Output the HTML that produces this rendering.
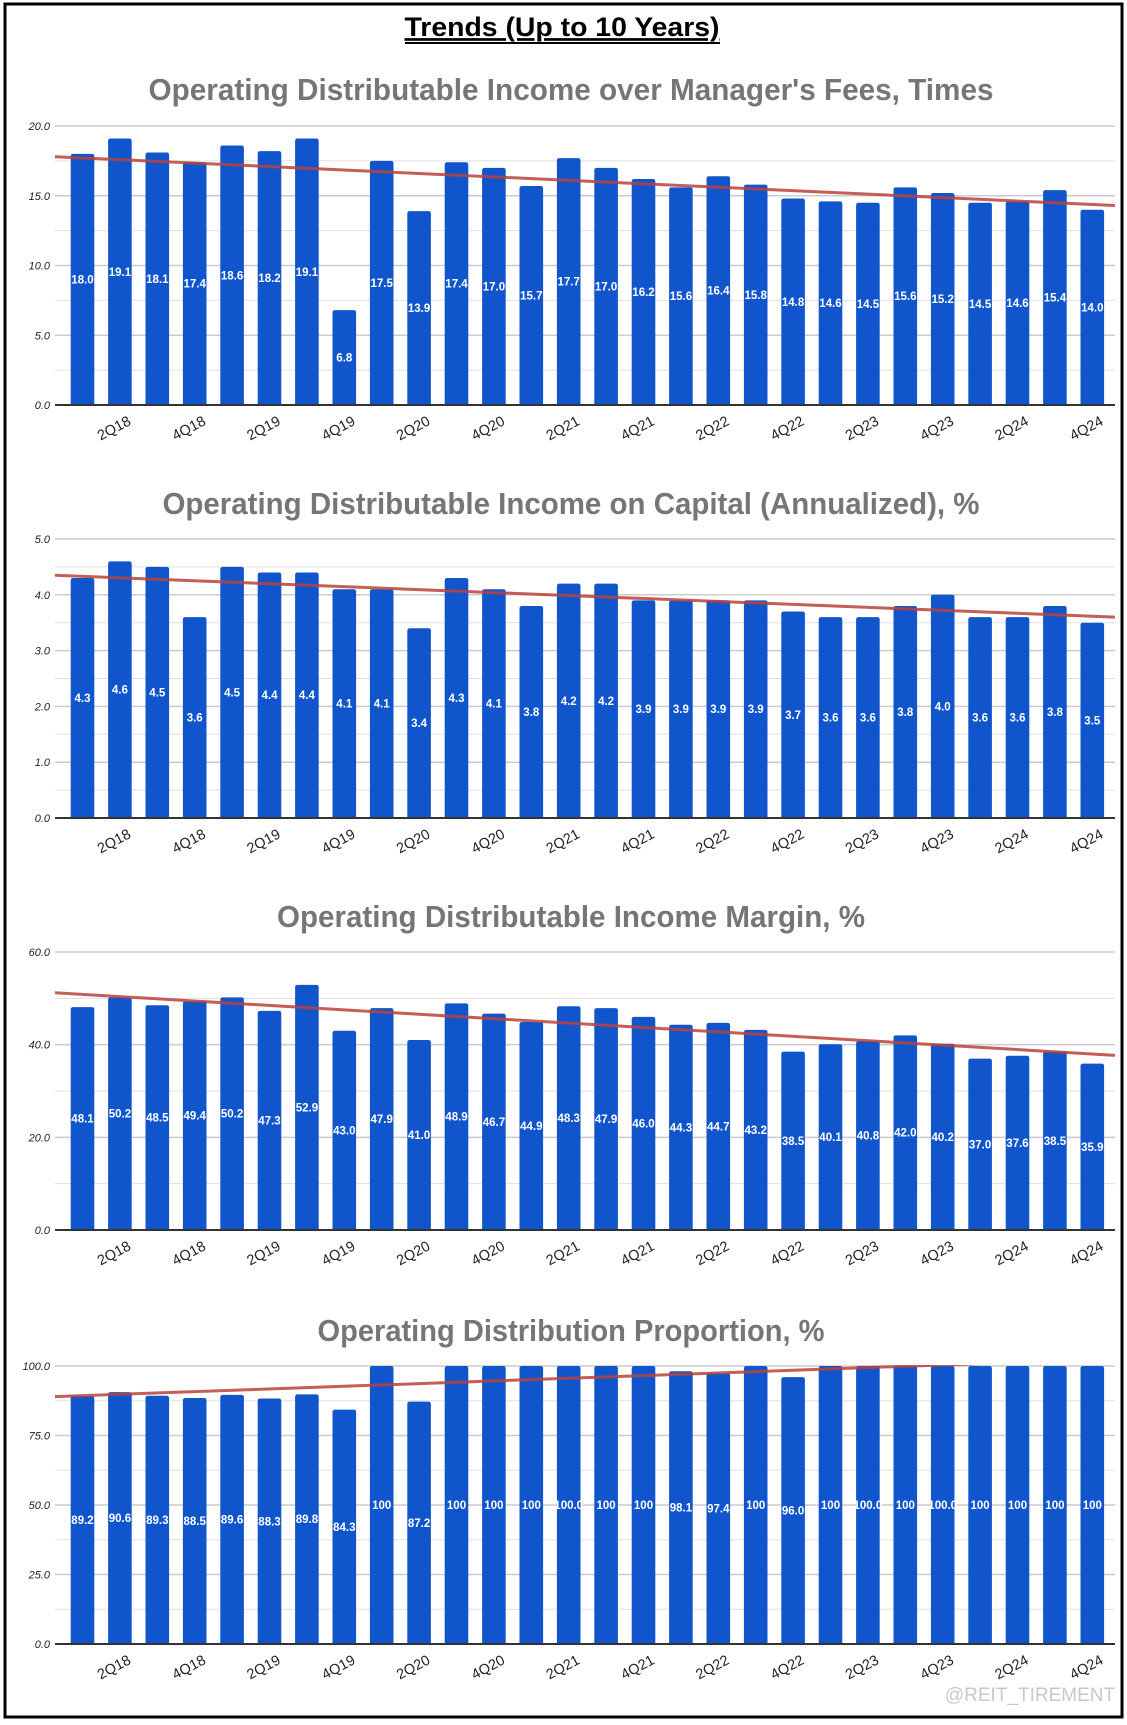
<!DOCTYPE html>
<html><head><meta charset="utf-8"><style>
html,body{margin:0;padding:0;background:#fff;}
svg{display:block;}
</style></head><body>
<svg id="root" width="1127" height="1725" xmlns="http://www.w3.org/2000/svg">
<rect x="5" y="4" width="1117" height="1713" fill="#fff" stroke="#000" stroke-width="3"/>
<text x="562" y="29" text-anchor="middle" dominant-baseline="middle" font-family="Liberation Sans, sans-serif" font-weight="bold" font-size="27" textLength="315" lengthAdjust="spacingAndGlyphs" text-decoration="underline" fill="#000">Trends (Up to 10 Years)</text>
<line x1="405" y1="43" x2="720" y2="43" stroke="#000" stroke-width="2"/>
<text x="1030" y="1701" text-anchor="middle" font-family="Liberation Sans, sans-serif" font-size="19" fill="#c8c8c8">@REIT_TIREMENT</text>
</svg>
<script>
const quarters = ["1Q18","2Q18","3Q18","4Q18","1Q19","2Q19","3Q19","4Q19","1Q20","2Q20","3Q20","4Q20","1Q21","2Q21","3Q21","4Q21","1Q22","2Q22","3Q22","4Q22","1Q23","2Q23","3Q23","4Q23","1Q24","2Q24","3Q24","4Q24"];
const feesValues = [18.0,19.1,18.1,17.4,18.6,18.2,19.1,6.8,17.5,13.9,17.4,17.0,15.7,17.7,17.0,16.2,15.6,16.4,15.8,14.8,14.6,14.5,15.6,15.2,14.5,14.6,15.4,14.0];
const capitalValues = [4.3,4.6,4.5,3.6,4.5,4.4,4.4,4.1,4.1,3.4,4.3,4.1,3.8,4.2,4.2,3.9,3.9,3.9,3.9,3.7,3.6,3.6,3.8,4.0,3.6,3.6,3.8,3.5];
const marginValues = [48.1,50.2,48.5,49.4,50.2,47.3,52.9,43.0,47.9,41.0,48.9,46.7,44.9,48.3,47.9,46.0,44.3,44.7,43.2,38.5,40.1,40.8,42.0,40.2,37.0,37.6,38.5,35.9];
const proportionValues = [89.2,90.6,89.3,88.5,89.6,88.3,89.8,84.3,100,87.2,100,100,100,100.0,100,100,98.1,97.4,100,96.0,100,100.0,100,100.0,100,100,100,100];
const proportionLabels = ["89.2","90.6","89.3","88.5","89.6","88.3","89.8","84.3","100","87.2","100","100","100","100.0","100","100","98.1","97.4","100","96.0","100","100.0","100","100.0","100","100","100","100"];
const feesTicks = [0,5,10,15,20];
const capitalTicks = [0,1,2,3,4,5];
const marginTicks = [0,20,40,60];
const proportionTicks = [0,25,50,75,100];
const feesTrend = [17.8,14.3];
const capitalTrend = [4.35,3.6];
const marginTrend = [51.2,37.7];
const proportionTrend = [89.0,102.6];

const NS="http://www.w3.org/2000/svg";
const root=document.getElementById('root');
function mk(tag,attrs,parent){const e=document.createElementNS(NS,tag);for(const k in attrs)e.setAttribute(k,attrs[k]);(parent||root).appendChild(e);return e;}

const PL=55, PR=1115;
const charts=[
 {name:'fees',title:"Operating Distributable Income over Manager's Fees, Times",tY:92,tW:845,top:126,bot:405,max:20,ticks:feesTicks,vals:feesValues,labels:null,trend:feesTrend},
 {name:'capital',title:"Operating Distributable Income on Capital (Annualized), %",tY:506,tW:817,top:539,bot:818,max:5,ticks:capitalTicks,vals:capitalValues,labels:null,trend:capitalTrend},
 {name:'margin',title:"Operating Distributable Income Margin, %",tY:919,tW:588,top:952,bot:1230,max:60,ticks:marginTicks,vals:marginValues,labels:null,trend:marginTrend},
 {name:'proportion',title:"Operating Distribution Proportion, %",tY:1333,tW:507,top:1366,bot:1644,max:100,ticks:proportionTicks,vals:proportionValues,labels:proportionLabels,trend:proportionTrend}
];
function xC(i){return 82.5+i*37.4;}
charts.forEach(c=>{
  const g=mk('g',{});
  
  
  const y=v=>c.bot-(v/c.max)*(c.bot-c.top);
  const t=mk('text',{x:571,y:c.tY,'text-anchor':'middle','dominant-baseline':'middle','font-family':'Liberation Sans, sans-serif','font-weight':'bold','font-size':31,fill:'#767676',textLength:c.tW,lengthAdjust:'spacingAndGlyphs'},g);
  t.textContent=c.title;
  
  
  for(let k=0;k<c.ticks.length;k++){
    const v=c.ticks[k];
    if(k>0){const mv=(c.ticks[k-1]+v)/2;const ml=mk('line',{x1:PL,x2:PR,y1:y(mv),y2:y(mv),stroke:'#e0e0e0','stroke-width':1},g);
      
      }
    if(k>0){const gl=mk('line',{x1:PL,x2:PR,y1:y(v),y2:y(v),stroke:'#cccccc','stroke-width':1.5},g);
      
      }
    const tl=mk('text',{x:50,y:y(v)+4,'text-anchor':'end','font-family':'Liberation Sans, sans-serif','font-style':'italic','font-size':11,fill:'#222'},g);
    tl.textContent=v.toFixed(1);
    
    
  }
  c.vals.forEach((v,i)=>{
    const x=xC(i)-11.8, yt=y(v);
    const b=mk('path',{d:`M${x},${c.bot} L${x},${yt+2.5} Q${x},${yt} ${x+2.5},${yt} L${x+21.1},${yt} Q${x+23.6},${yt} ${x+23.6},${yt+2.5} L${x+23.6},${c.bot} Z`,fill:'#1155cc'},g);
    
    
    const lb=mk('text',{x:xC(i),y:(yt+c.bot)/2+4,'text-anchor':'middle','font-family':'Liberation Sans, sans-serif','font-weight':'bold','font-size':11.5,fill:'#fff'},g);
    lb.textContent=c.labels?c.labels[i]:v.toFixed(1);
    
    
  });
  const ax=mk('line',{x1:PL,x2:PR,y1:c.bot,y2:c.bot,stroke:'#333','stroke-width':2},g);
  
  
  const cid='clip-'+c.name;
  const cp=mk('clipPath',{id:cid},g);mk('rect',{x:PL,y:c.top-1,width:PR-PL,height:c.bot-c.top},cp);
  const tr=mk('line',{x1:PL,x2:PR,y1:y(c.trend[0]),y2:y(c.trend[1]),stroke:'#b8423c','stroke-opacity':0.85,'stroke-width':3,'clip-path':`url(#${cid})`},g);
  
  
  quarters.forEach((q,i)=>{
    if(i%2!==1)return;
    const cx=xC(i)-6;
    const tx=mk('text',{x:cx,y:c.bot+28,'text-anchor':'middle','font-family':'Liberation Sans, sans-serif','font-size':14.5,fill:'#222',transform:`rotate(-28 ${cx} ${c.bot+23})`},g);
    tx.textContent=q;
    
    
  });
});
</script>
</body></html>
